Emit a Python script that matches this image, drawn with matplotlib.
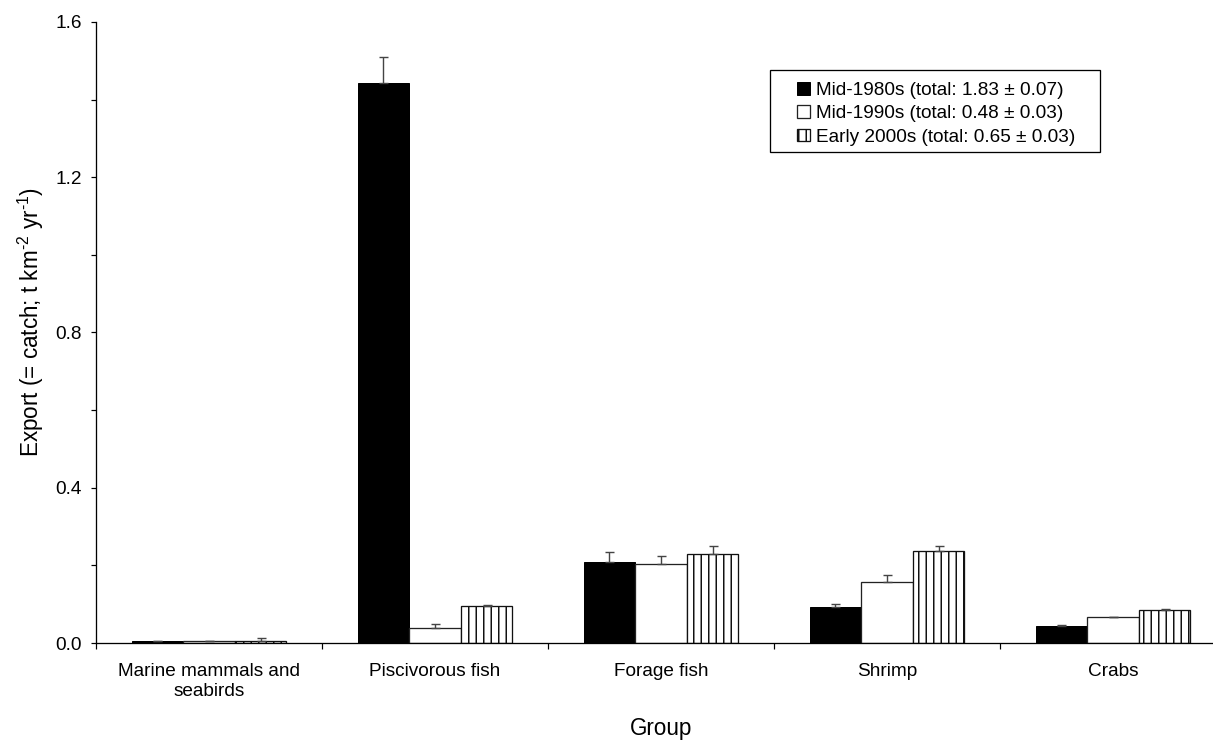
import matplotlib
matplotlib.use('Agg')
import matplotlib.pyplot as plt
import numpy as np
from matplotlib.patches import Rectangle
from matplotlib.ticker import MultipleLocator

# ---------------- data ----------------
groups = ["Marine mammals and\nseabirds", "Piscivorous fish", "Forage fish", "Shrimp", "Crabs"]
series_labels = ["Mid-1980s (total: 1.83 \u00b1 0.07)",
                 "Mid-1990s (total: 0.48 \u00b1 0.03)",
                 "Early 2000s (total: 0.65 \u00b1 0.03)"]
mid1980s = [0.005, 1.443, 0.209, 0.093, 0.044]
mid1980s_err = [0.001, 0.067, 0.026, 0.008, 0.002]
mid1990s = [0.004, 0.039, 0.204, 0.157, 0.067]
mid1990s_err = [0.001, 0.010, 0.020, 0.018, 0.001]
early2000s = [0.005, 0.095, 0.229, 0.237, 0.085]
early2000s_err = [0.008, 0.003, 0.021, 0.013, 0.002]
y_ticks = [0.0, 0.4, 0.8, 1.2, 1.6]

# ---------------- layout ----------------
DPI = 90
W, H = 1213, 746


def pt(px):
    return px * 72.0 / DPI


plt.rcParams['font.family'] = ['Liberation Sans', 'DejaVu Sans']
plt.rcParams['mathtext.fontset'] = 'custom'
plt.rcParams['mathtext.rm'] = 'Liberation Sans'
plt.rcParams['mathtext.it'] = 'Liberation Sans:italic'
plt.rcParams['mathtext.bf'] = 'Liberation Sans:bold'
plt.rcParams['hatch.linewidth'] = pt(1.5)
fs = pt(19)
fs_title = pt(22.5)

fig = plt.figure(figsize=(W / DPI, H / DPI), dpi=DPI)
ax = fig.add_axes([96 / W, 103 / H, 1130 / W, 621 / H])

x = np.arange(len(groups)) + 0.5
w = 0.228
zeros = np.zeros(len(groups))

b1 = ax.bar(x - w, mid1980s, w, color='black', edgecolor='black', linewidth=pt(1.0))
b2 = ax.bar(x, mid1990s, w, color='white', edgecolor='#222222', linewidth=pt(1.3))
b3 = ax.bar(x + w, early2000s, w, color='white', edgecolor='#111111', hatch='||', linewidth=pt(1.3))

for xs, vals, errs in [(x - w, mid1980s, mid1980s_err),
                       (x, mid1990s, mid1990s_err),
                       (x + w, early2000s, early2000s_err)]:
    ax.errorbar(xs, vals, yerr=[zeros, errs], fmt='none', ecolor='#444444',
                elinewidth=pt(1.4), capsize=pt(4.5), capthick=pt(1.4), zorder=3)

ax.set_xlim(0, 5)
ax.set_ylim(0, 1.6)

for s in ['top', 'right']:
    ax.spines[s].set_visible(False)
for s in ['left', 'bottom']:
    ax.spines[s].set_linewidth(pt(1.3))
    ax.spines[s].set_color('black')

ax.set_yticks(y_ticks)
ax.set_yticklabels([f"{v:.1f}" for v in y_ticks])
ax.yaxis.set_minor_locator(MultipleLocator(0.2))
ax.tick_params(axis='y', which='both', direction='out', length=pt(5), width=pt(1.2),
               pad=pt(9), labelsize=fs)

ax.set_xticks(np.arange(len(groups) + 1))
ax.set_xticklabels([])
ax.set_xticks(x, groups, minor=True)
ax.tick_params(axis='x', which='major', direction='out', length=pt(6), width=pt(1.2))
ax.tick_params(axis='x', which='minor', length=0, pad=pt(20), labelsize=fs)
for lab in ax.get_xticklabels(minor=True):
    lab.set_linespacing(1.2)

ax.set_ylabel(r'Export (= catch; t km$^{\text{-2}}$ yr$^{\text{-1}}$)', fontsize=fs_title)
ax.yaxis.set_label_coords((46 - 96) / 1130, 0.516)
ax.set_xlabel('Group', fontsize=fs_title)
ax.xaxis.set_label_coords(0.5, (643 - 717) / 621)

leg = ax.legend([b1, b2, b3], series_labels, loc='upper left',
                bbox_to_anchor=(797 / W, 1 - 82 / H), bbox_transform=fig.transFigure,
                frameon=False, borderpad=0, borderaxespad=0,
                handlelength=0.68, handleheight=0.63, handletextpad=0.3,
                labelspacing=0.33, fontsize=fs)

fig.add_artist(Rectangle((770 / W, 1 - 152 / H), 330 / W, 82 / H,
                         transform=fig.transFigure, fill=False,
                         edgecolor='black', linewidth=pt(1.3)))

fig.savefig('out.png', dpi=DPI)
